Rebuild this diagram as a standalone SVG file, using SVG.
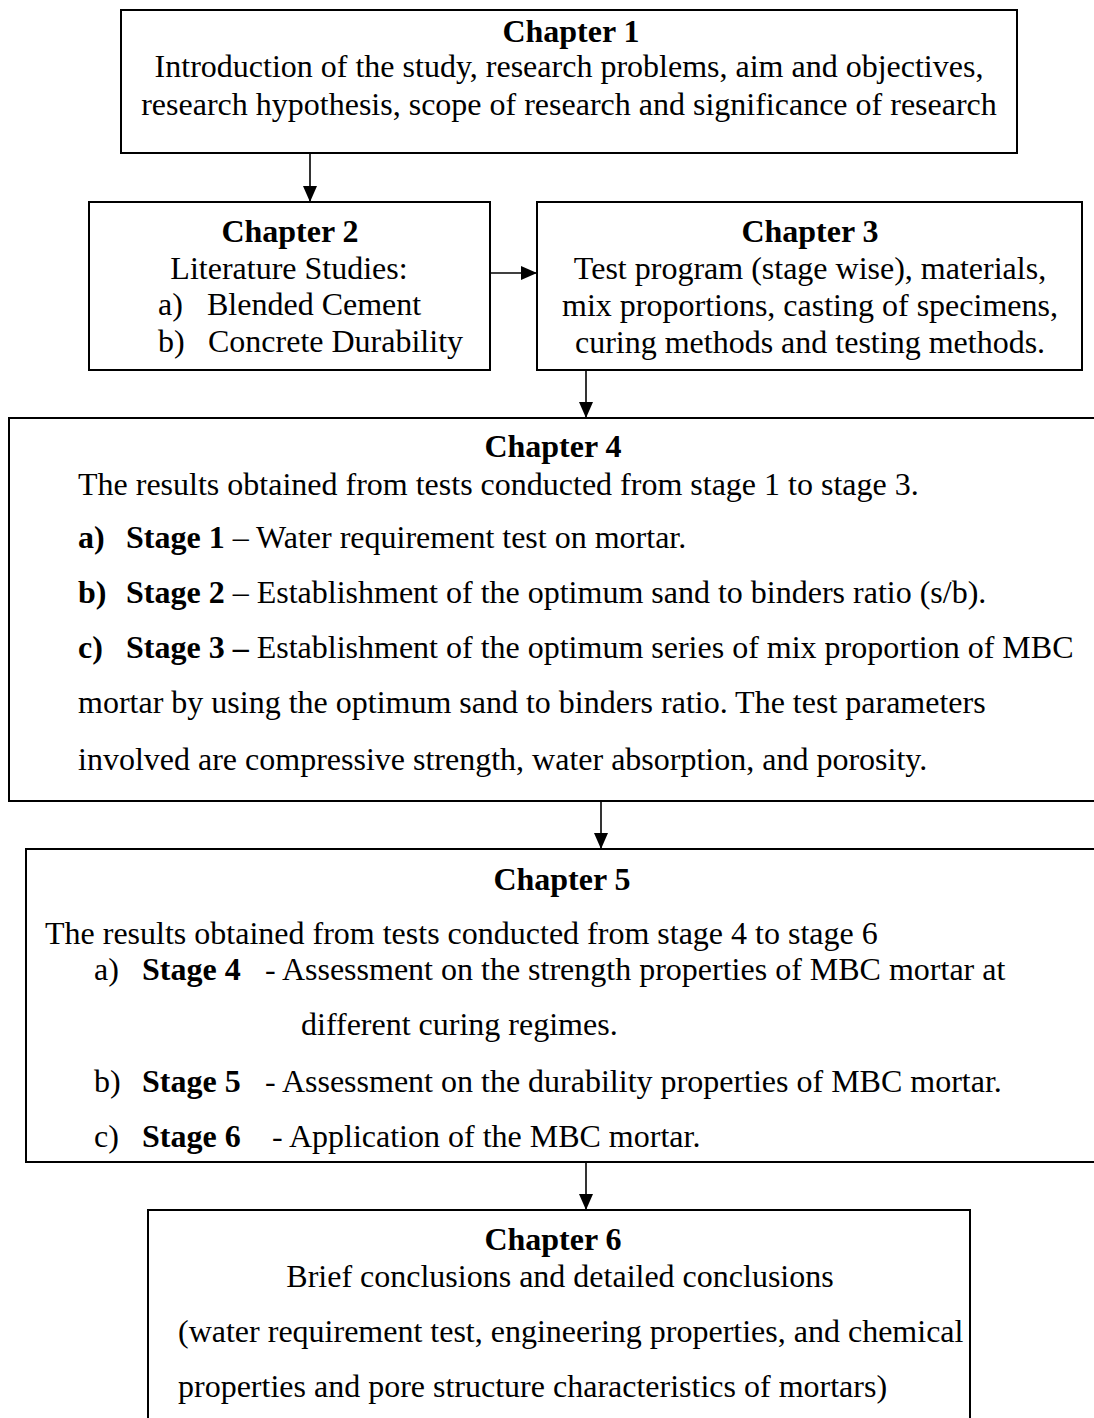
<svg xmlns="http://www.w3.org/2000/svg" width="1094" height="1418" viewBox="0 0 1094 1418">
<style>
.box{fill:#fff;stroke:#000;stroke-width:2}
text{font-family:"Liberation Serif","Times New Roman",serif;font-size:32px;fill:#000}
.b{font-weight:bold}
.c{text-anchor:middle}
.conn line{stroke:#000;stroke-width:1.6}
</style>
<defs>
<marker id="ah" markerUnits="userSpaceOnUse" markerWidth="16" markerHeight="14" refX="16" refY="7" orient="auto">
<path d="M0,0 L16,7 L0,14 z" fill="#000"/>
</marker>
</defs>
<rect width="1094" height="1418" fill="#fff"/>
<g id="chapter1">
<rect class="box" x="121" y="10" width="896" height="143"/>
<text class="b c" x="571" y="42">Chapter 1</text>
<text class="c" x="569" y="77">Introduction of the study, research problems, aim and objectives,</text>
<text class="c" x="569" y="115">research hypothesis, scope of research and significance of research</text>
</g>
<g id="chapter2">
<rect class="box" x="89" y="202" width="401" height="168"/>
<text class="b c" x="290" y="242">Chapter 2</text>
<text class="c" x="289" y="279">Literature Studies:</text>
<text x="158" y="315">a)</text><text x="207" y="315">Blended Cement</text>
<text x="158" y="352">b)</text><text x="208" y="352">Concrete Durability</text>
</g>
<g id="chapter3">
<rect class="box" x="537" y="202" width="545" height="168"/>
<text class="b c" x="810" y="242">Chapter 3</text>
<text class="c" x="810" y="279">Test program (stage wise), materials,</text>
<text class="c" x="810" y="316">mix proportions, casting of specimens,</text>
<text class="c" x="810" y="353">curing methods and testing methods.</text>
</g>
<g id="chapter4">
<rect class="box" x="9" y="418" width="1100" height="383"/>
<text class="b c" x="553" y="457">Chapter 4</text>
<text x="78" y="495">The results obtained from tests conducted from stage 1 to stage 3.</text>
<text x="78" y="548"><tspan class="b">a)</tspan><tspan class="b" x="126">Stage 1</tspan> – Water requirement test on mortar.</text>
<text x="78" y="603"><tspan class="b">b)</tspan><tspan class="b" x="126">Stage 2</tspan> – Establishment of the optimum sand to binders ratio (s/b).</text>
<text x="78" y="658"><tspan class="b">c)</tspan><tspan class="b" x="126">Stage 3 –</tspan> Establishment of the optimum series of mix proportion of MBC</text>
<text x="78" y="713">mortar by using the optimum sand to binders ratio. The test parameters</text>
<text x="78" y="770">involved are compressive strength, water absorption, and porosity.</text>
</g>
<g id="chapter5">
<rect class="box" x="26" y="849" width="1090" height="313"/>
<text class="b c" x="562" y="890">Chapter 5</text>
<text x="45" y="944">The results obtained from tests conducted from stage 4 to stage 6</text>
<text x="94" y="980">a)<tspan class="b" x="142">Stage 4</tspan><tspan x="265">- Assessment on the strength properties of MBC mortar at</tspan></text>
<text x="301" y="1035">different curing regimes.</text>
<text x="94" y="1092">b)<tspan class="b" x="142">Stage 5</tspan><tspan x="265">- Assessment on the durability properties of MBC mortar.</tspan></text>
<text x="94" y="1147">c)<tspan class="b" x="142">Stage 6</tspan><tspan x="272">- Application of the MBC mortar.</tspan></text>
</g>
<g id="chapter6">
<rect class="box" x="148" y="1210" width="822" height="240"/>
<text class="b c" x="553" y="1250">Chapter 6</text>
<text class="c" x="560" y="1287">Brief conclusions and detailed conclusions</text>
<text x="178" y="1342">(water requirement test, engineering properties, and chemical</text>
<text x="178" y="1397">properties and pore structure characteristics of mortars)</text>
</g>
<g id="connectors" class="conn">
<line x1="310" y1="153" x2="310" y2="202" marker-end="url(#ah)"/>
<line x1="490" y1="273" x2="537" y2="273" marker-end="url(#ah)"/>
<line x1="586" y1="370" x2="586" y2="418" marker-end="url(#ah)"/>
<line x1="601" y1="801" x2="601" y2="849" marker-end="url(#ah)"/>
<line x1="586" y1="1162" x2="586" y2="1210" marker-end="url(#ah)"/>
</g>
</svg>
